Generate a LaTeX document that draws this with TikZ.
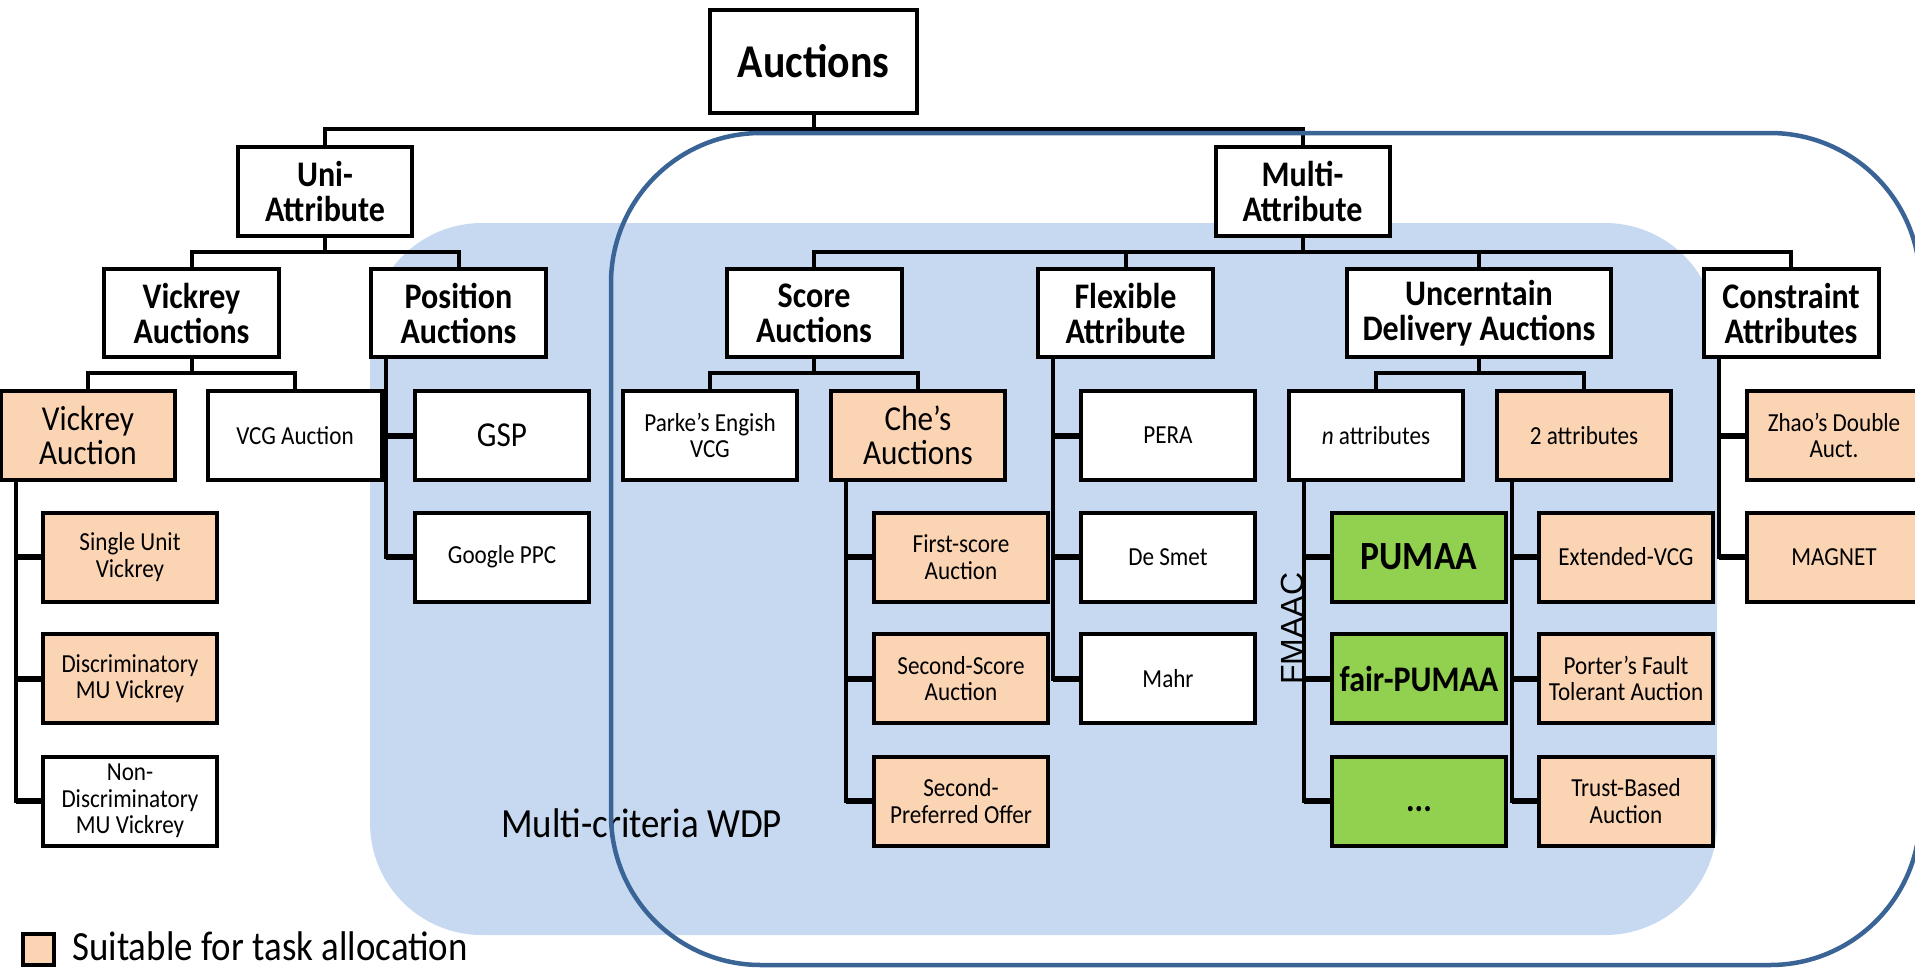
\documentclass[tikz,border=0pt]{standalone}
\usepackage{fontspec}
\setmainfont{Carlito}[FakeStretch=0.89]
\newfontfamily\arialfont{Liberation Sans}
\usetikzlibrary{calc}

\definecolor{wdpblue}{HTML}{C6D9F1}
\definecolor{rimblue}{HTML}{3A6496}
\definecolor{suitorange}{HTML}{FBD4B4}
\definecolor{pumaagreen}{HTML}{92D050}

\tikzset{
  tbox/.style={draw=black, line width=4pt, fill=white, inner sep=2pt, align=center},
  head/.style={tbox, minimum width=175pt, minimum height=88pt, font=\bfseries\fontsize{36}{35}\selectfont},
  leaf/.style={tbox, minimum width=174pt, minimum height=89pt, font=\fontsize{26}{26.5}\selectfont},
  bigleaf/.style={leaf, font=\fontsize{35}{34}\selectfont},
  suit/.style={fill=suitorange},
  greenbox/.style={leaf, fill=pumaagreen, font=\bfseries\fontsize{36}{36}\selectfont},
  bus/.style={line width=4pt},
  spine/.style={line width=4pt},
  stub/.style={line width=6pt},
}

\begin{document}
\begin{tikzpicture}[x=1pt, y=-1pt]
\useasboundingbox (0,0) rectangle (1915,967);

% shaded region of multi-criteria winner determination
\fill[wdpblue, rounded corners=112pt] (370,223) rectangle (1717,935);

% bus heights
\coordinate (busT) at (0,129);
\coordinate (busU) at (0,252);
\coordinate (busL) at (0,373);

% ---- nodes ----
\node[tbox, minimum width=207pt, minimum height=103pt, font=\bfseries\fontsize{47}{50}\selectfont] (auc) at (813.5,61.5) {Auctions};
\node[head, minimum width=174pt, minimum height=89pt] (uni) at (325,191.5) {Uni-\\Attribute};
\node[head, minimum width=174pt, minimum height=89pt] (multi) at (1302.5,191.5) {Multi-\\Attribute};

\node[head] (vickA) at (191.5,313) {Vickrey\\Auctions};
\node[head] (posA) at (458.5,313) {Position\\Auctions};
\node[head] (scoreA) at (814,313) {Score\\Auctions};
\node[head] (flex) at (1125.5,313) {Flexible\\Attribute};
\node[head, minimum width=264pt] (unc) at (1479,313) {Uncerntain\\Delivery Auctions};
\node[head] (cons) at (1791,313) {Constraint\\Attributes};

% first row of leaves
\node[bigleaf, suit] (vick) at (88,435.5) {Vickrey\\Auction};
\node[leaf] (vcg) at (295,435.5) {VCG Auction};
\node[bigleaf] (gsp) at (502,435.5) {GSP};
\node[leaf] (parke) at (710,435.5) {Parke’s Engish\\VCG};
\node[bigleaf, suit] (che) at (918,435.5) {Che’s\\Auctions};
\node[leaf] (pera) at (1168,435.5) {PERA};
\node[leaf] (nattr) at (1376,435.5) {\textit{n} attributes};
\node[leaf, suit] (twoattr) at (1584,435.5) {2 attributes};
\node[leaf, suit] (zhao) at (1834,435.5) {Zhao’s Double\\Auct.};

% second row
\node[leaf, suit] (single) at (130,557) {Single Unit\\Vickrey};
\node[leaf] (gppc) at (502,557) {Google PPC};
\node[leaf, suit] (first) at (961,557) {First-score\\Auction};
\node[leaf] (desmet) at (1168,557) {De Smet};
\node[greenbox, font=\bfseries\fontsize{40}{40}\selectfont] (pumaa) at (1419,557) {PUMAA};
\node[leaf, suit] (extvcg) at (1626,557) {Extended-VCG};
\node[leaf, suit] (magnet) at (1834,557) {MAGNET};

% third row
\node[leaf, suit] (discr) at (130,678.5) {Discriminatory\\MU Vickrey};
\node[leaf, suit] (second) at (961,678.5) {Second-Score\\Auction};
\node[leaf] (mahr) at (1168,678.5) {Mahr};
\node[greenbox] (fair) at (1419,678.5) {fair-PUMAA};
\node[leaf, suit] (porter) at (1626,678.5) {Porter’s Fault\\Tolerant Auction};

% fourth row
\node[leaf] (nondiscr) at (130,801) {Non-\\Discriminatory\\MU Vickrey};
\node[leaf, suit] (secpref) at (961,801) {Second-\\Preferred Offer};
\node[greenbox] (dots) at (1419,801) {\raisebox{-8pt}[\height][\depth]{...}};
\node[leaf, suit] (trust) at (1626,801) {Trust-Based\\Auction};

% ---- tree buses ----
\draw[bus] (auc.south) -- (auc.south |- busT);
\draw[bus] (uni.north) |- (multi.north |- busT) -- (multi.north);

\draw[bus] (uni.south) -- (uni.south |- busU);
\draw[bus] (vickA.north) |- (posA.north |- busU) -- (posA.north);

\draw[bus] (multi.south) -- (multi.south |- busU);
\draw[bus] (scoreA.north) |- (cons.north |- busU) -- (cons.north);
\draw[bus] (flex.north) -- (flex.north |- busU);
\draw[bus] (unc.north) -- (unc.north |- busU);

\draw[bus] (vickA.south) -- (vickA.south |- busL);
\draw[bus] (vick.north) |- (vcg.north |- busL) -- (vcg.north);
\draw[bus] (scoreA.south) -- (scoreA.south |- busL);
\draw[bus] (parke.north) |- (che.north |- busL) -- (che.north);
\draw[bus] (unc.south) -- (unc.south |- busL);
\draw[bus] (nattr.north) |- (twoattr.north |- busL) -- (twoattr.north);

% ---- vertical lists ----
\foreach \p/\last in {vick/nondiscr, posA/gppc, che/secpref, flex/mahr, nattr/dots, twoattr/trust, cons/magnet}{
  \coordinate (\p-sp) at ($(\p.south west)+(17,0)$);
  \draw[spine] (\p-sp) |- (\last.west);
}
\foreach \p/\c in {vick/single, vick/discr, vick/nondiscr, posA/gsp, posA/gppc,
                   che/first, che/second, che/secpref, flex/pera, flex/desmet, flex/mahr,
                   nattr/pumaa, nattr/fair, nattr/dots, twoattr/extvcg, twoattr/porter, twoattr/trust,
                   cons/zhao, cons/magnet}{
  \draw[stub] (\p-sp |- \c.west) -- (\c.west);
}

% ---- labels ----
\node[anchor=base west, inner sep=0, font=\fontsize{41.5}{42}\selectfont] (wdp) at (501,837) {Multi-criteria WDP};
\node[anchor=base west, inner sep=0, rotate=90, font=\arialfont\fontsize{32}{36}\selectfont] (fmaac) at (1303,685) {FMAAC};

% ---- legend ----
\node[draw=black, line width=4pt, fill=suitorange, minimum width=31pt, minimum height=31pt, inner sep=0] (legsq) at (38,949.5) {};
\node[anchor=base west, inner sep=0, font=\fontsize{41.5}{42}\selectfont] (legtxt) at (72,960) {Suitable for task allocation};

% ---- multi-attribute frame ----
\draw[rimblue, line width=4.5pt, rounded corners=150pt] (611,133) rectangle (1920,965);
\end{tikzpicture}
\end{document}
